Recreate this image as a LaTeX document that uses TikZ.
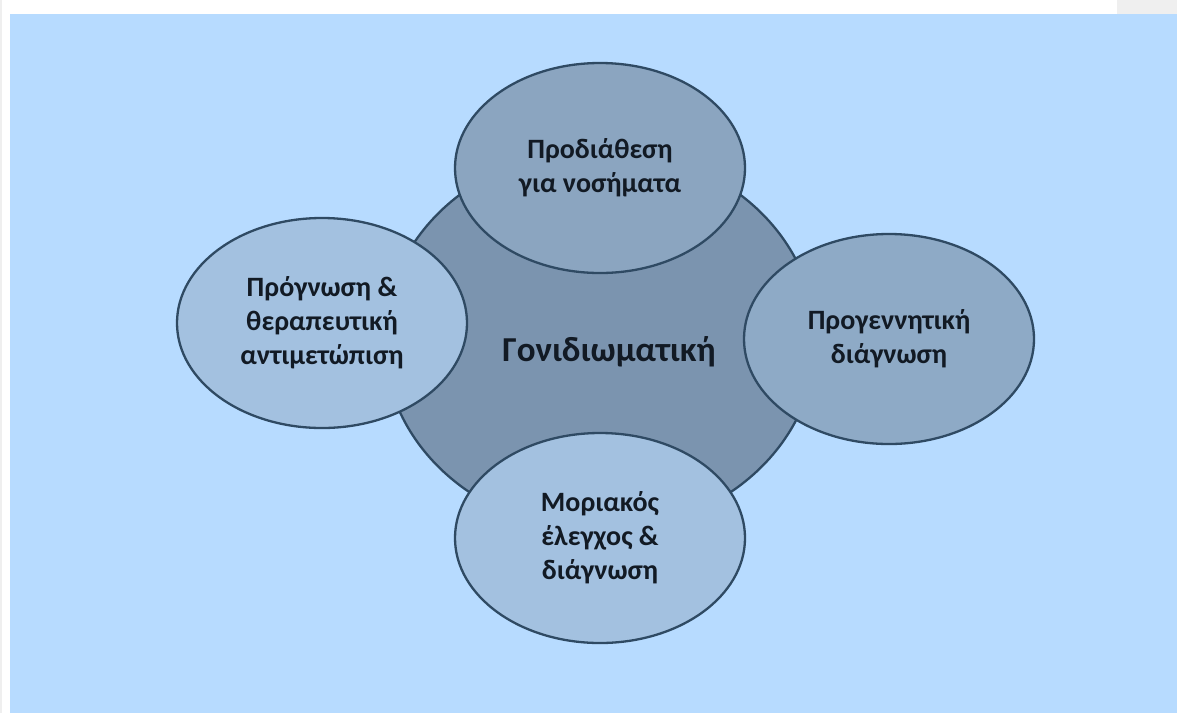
\documentclass[tikz,border=0pt]{standalone}
\usepackage{fontspec}
\setmainfont{Carlito}
\usepackage{tikz}
\usetikzlibrary{shapes.geometric}

\definecolor{panelblue}{HTML}{B7DBFF}
\definecolor{pagegrey}{HTML}{EFEFEF}
\definecolor{rimdark}{HTML}{2F4A63}
\definecolor{hubfill}{HTML}{7B94AF}
\definecolor{darkfill}{HTML}{8BA5C0}
\definecolor{midfill}{HTML}{8EAAC6}
\definecolor{lightfill}{HTML}{A3C1E0}
\definecolor{inktext}{HTML}{121A24}

\begin{document}
\begin{tikzpicture}[x=1pt, y=-1pt, line width=2.3pt,
  hub/.style={ellipse, draw=rimdark, fill=hubfill, minimum width=432pt, minimum height=382pt, inner sep=0pt},
  bubble/.style={ellipse, draw=rimdark, minimum width=290pt, minimum height=210pt, inner sep=0pt,
    align=center, text=inktext, font=\fontsize{28}{34}\selectfont\bfseries}]

% draw page and blue panel
\useasboundingbox (0,0) rectangle (1177,713);
\fill[white] (0,0) rectangle (1177,713);
\fill[pagegrey] (0,0) rectangle (2,713);
\fill[pagegrey] (1117,0) rectangle (1177,14);
\fill[panelblue] (10,14) rectangle (1177,713);

% draw central ellipse
\node[hub] (core) at (600,340) {};
\node[text=inktext, font=\fontsize{35}{40}\selectfont\bfseries] (corelabel) at (609,352) {Γονιδιωματική};

% draw surrounding ellipses
\node[bubble, fill=darkfill] (risk) at (600,168) {Προδιάθεση\\για νοσήματα};
\node[bubble, fill=midfill] (prenatal) at (889,339) {Προγεννητική\\διάγνωση};
\node[bubble, fill=lightfill] (molecular) at (600,538) {Μοριακός\\έλεγχος \&\\διάγνωση};
\node[bubble, fill=lightfill] (prognosis) at (322,323) {Πρόγνωση \&\\θεραπευτική\\αντιμετώπιση};

\end{tikzpicture}
\end{document}
